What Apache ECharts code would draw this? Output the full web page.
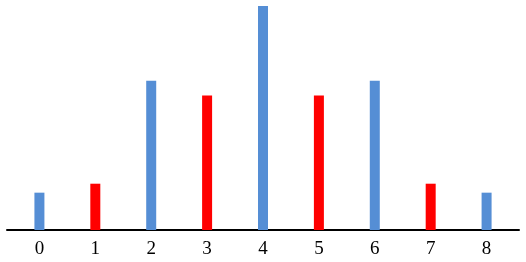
<!DOCTYPE html>
<html><head><meta charset="utf-8">
<script src="https://cdn.jsdelivr.net/npm/echarts@6/dist/echarts.min.js"></script>
<style>html,body{margin:0;padding:0;background:#fff}#c{width:526px;height:262px}</style>
</head><body><div id="c"></div>
<script>
const categories = [0, 1, 2, 3, 4, 5, 6, 7, 8];
const values = [5, 6.2, 20, 18, 30, 18, 20, 6.2, 5];
const colors = ['#558ED5', '#FF0000'];
const chart = echarts.init(document.getElementById('c'), null, {renderer:'canvas'});
chart.setOption({
  animation:false,
  grid:{left:7,right:7,top:6,bottom:32},
  xAxis:{type:'value',min:-0.58,max:8.58,
    splitLine:{show:false},
    axisLine:{onZero:false,lineStyle:{color:'#000',width:2}},
    axisTick:{show:false},
    axisLabel:{customValues:categories,color:'#000',fontFamily:'Liberation Serif',fontSize:19,margin:10,
      showMinLabel:true,showMaxLabel:true}},
  yAxis:{type:'value',min:0,max:30,show:false,splitLine:{show:false}},
  series:[{type:'bar',barWidth:10,
    data:values.map((v,i)=>({value:[categories[i],v],itemStyle:{color:colors[i%2]}}))}]
});
</script></body></html>
